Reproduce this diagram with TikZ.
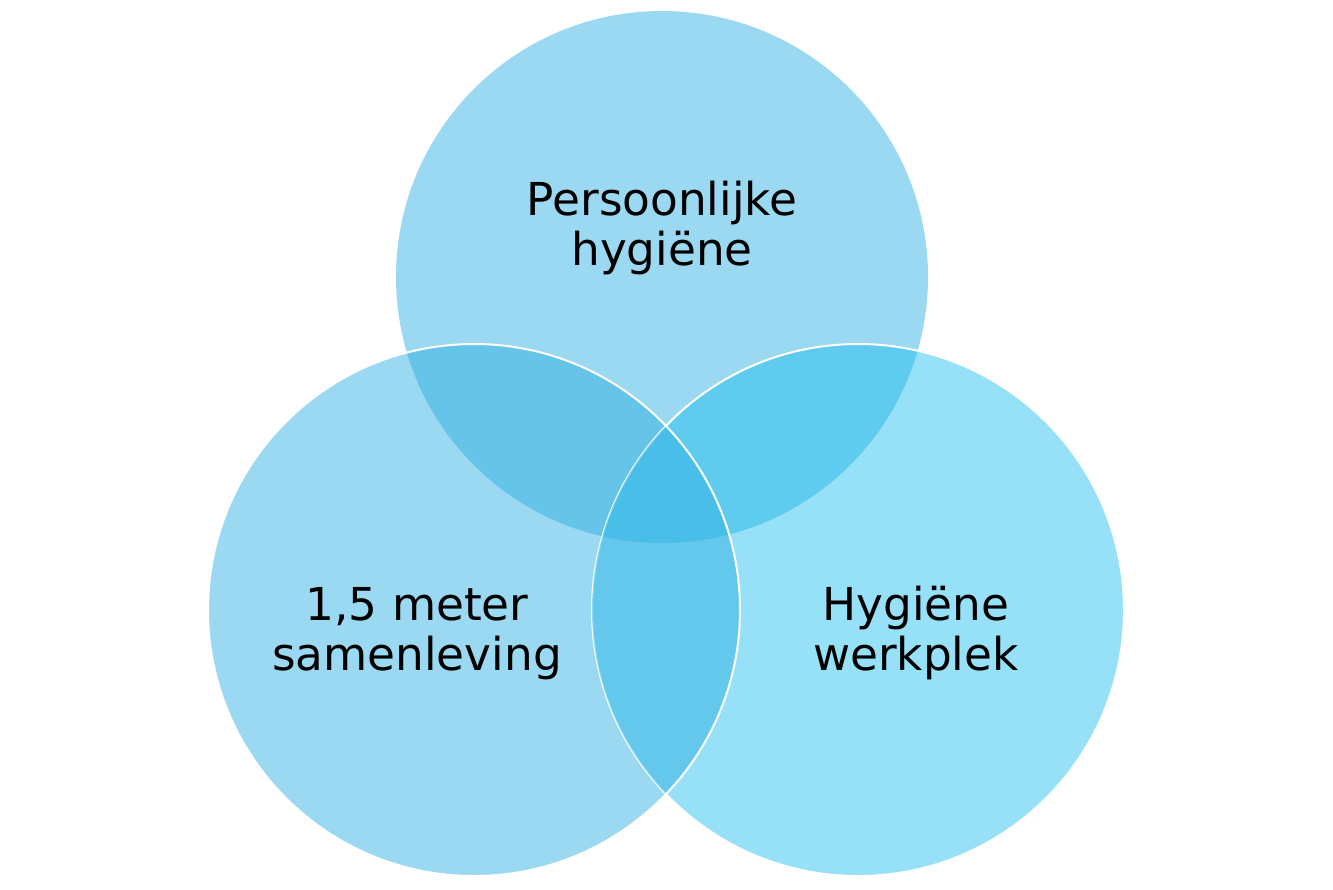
\documentclass[tikz,border=0pt]{standalone}
\usepackage{fontspec}
\setmainfont{DejaVu Sans}
\definecolor{cTop}{HTML}{9AD9F1}
\definecolor{cLeft}{HTML}{9AD9F1}
\definecolor{cRight}{HTML}{96E0F8}
\definecolor{cTL}{HTML}{66C4E8}
\definecolor{cTR}{HTML}{5ECBEF}
\definecolor{cLR}{HTML}{63C8EC}
\definecolor{cAll}{HTML}{48BEE8}
\tikzset{
  label/.style={align=center, text=black, font=\fontsize{34}{37.5}\selectfont, inner sep=0pt},
  rim/.style={draw=white, line width=1.5pt}
}
\begin{document}
\begin{tikzpicture}[x=0.75pt, y=-0.75pt]
\useasboundingbox (0,0) rectangle (1333,889);
\def\R{266}
\coordinate (T) at (662,277);
\coordinate (L) at (474,610);
\coordinate (Rt) at (858,610);
% base fills
\fill[cTop] (T) circle (\R);
\fill[cLeft] (L) circle (\R);
\fill[cRight] (Rt) circle (\R);
% pairwise overlaps
\begin{scope}
  \clip (T) circle (\R);
  \fill[cTL] (L) circle (\R);
  \fill[cTR] (Rt) circle (\R);
\end{scope}
% outlines
\draw[rim] (Rt) circle (\R);
\begin{scope}
  \clip (L) circle (\R);
  \fill[cLR] (Rt) circle (\R);
  \begin{scope}
    \clip (T) circle (\R);
    \fill[cAll] (Rt) circle (\R);
  \end{scope}
  \draw[draw=white, line width=1.5pt, opacity=0.3] (Rt) circle (\R);
\end{scope}
\draw[rim] (L) circle (\R);
% labels
\node[label] (top) at (662,227.5) {Persoonlijke\\hygiëne};
\node[label] (left) at (417,633.7) {1,5 meter\\samenleving};
\node[label] (right) at (916,633) {Hygiëne\\werkplek};
\end{tikzpicture}
\end{document}
